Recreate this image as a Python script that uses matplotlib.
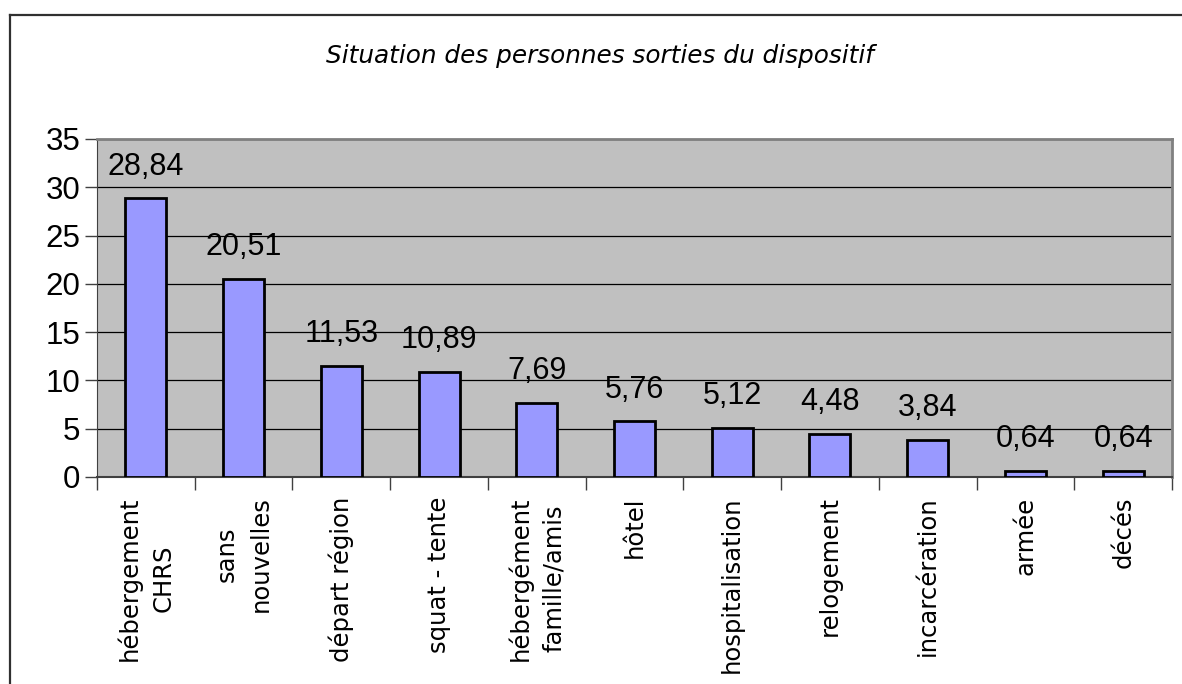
import matplotlib.pyplot as plt
from matplotlib.lines import Line2D

# data
categories = ['hébergement\nCHRS', 'sans\nnouvelles', 'départ région', 'squat - tente',
              'hébergément\nfamille/amis', 'hôtel', 'hospitalisation', 'relogement',
              'incarcération', 'armée', 'décés']
values = [28.84, 20.51, 11.53, 10.89, 7.69, 5.76, 5.12, 4.48, 3.84, 0.64, 0.64]
yticks = [0, 5, 10, 15, 20, 25, 30, 35]

fig = plt.figure(figsize=(11.82, 6.84), dpi=100)
ax = fig.add_axes([97 / 1182, 1 - 477 / 684, (1172 - 97) / 1182, (477 - 139) / 684])

# outer chart border
fig.add_artist(Line2D([10 / 1182, 10 / 1182], [0, 1 - 15 / 684], transform=fig.transFigure,
                      color='#303030', lw=1.6))
fig.add_artist(Line2D([10 / 1182, 1], [1 - 15 / 684, 1 - 15 / 684], transform=fig.transFigure,
                      color='#303030', lw=1.6))

ax.set_facecolor('#C0C0C0')
x = list(range(len(categories)))
bars = ax.bar(x, values, width=0.42, color='#9999FF', edgecolor='black', linewidth=2, zorder=3)

for xi, v in zip(x, values):
    ax.annotate(f'{v:.2f}'.replace('.', ','), (xi, v), xytext=(0, 12), textcoords='offset points',
                ha='center', va='bottom', fontsize=22, family='Liberation Sans')

ax.set_xlim(-0.5, len(categories) - 0.5)
ax.set_ylim(0, 35)
ax.set_yticks(yticks)
ax.set_yticklabels([str(t) for t in yticks], fontsize=22.5, family='Liberation Sans')
ax.yaxis.grid(True, color='black', lw=0.9, zorder=1)
ax.set_axisbelow(True)
ax.tick_params(axis='y', length=9, width=1, color='#404040', pad=3)

ax.set_xticks([i - 0.5 for i in range(len(categories) + 1)], minor=False)
ax.set_xticklabels([''] * (len(categories) + 1))
ax.tick_params(axis='x', length=9, width=1, color='#404040')
ax.set_xticks(x, minor=True)
ax.set_xticklabels(categories, minor=True, rotation=90, fontsize=17.5, family='DejaVu Sans',
                   ha='center', va='top', multialignment='center', linespacing=1.5)
ax.tick_params(axis='x', which='minor', length=0, pad=14)

for side in ['top', 'right']:
    ax.spines[side].set_color('#808080')
    ax.spines[side].set_linewidth(2)
ax.spines['left'].set_color('#404040')
ax.spines['bottom'].set_color('#404040')
ax.spines['bottom'].set_linewidth(1.5)

fig.text(0.508, 1 - 56 / 684, 'Situation des personnes sorties du dispositif', ha='center',
         va='center', fontsize=17.8, style='italic', family='DejaVu Sans')

fig.savefig('out.png', dpi=100)
